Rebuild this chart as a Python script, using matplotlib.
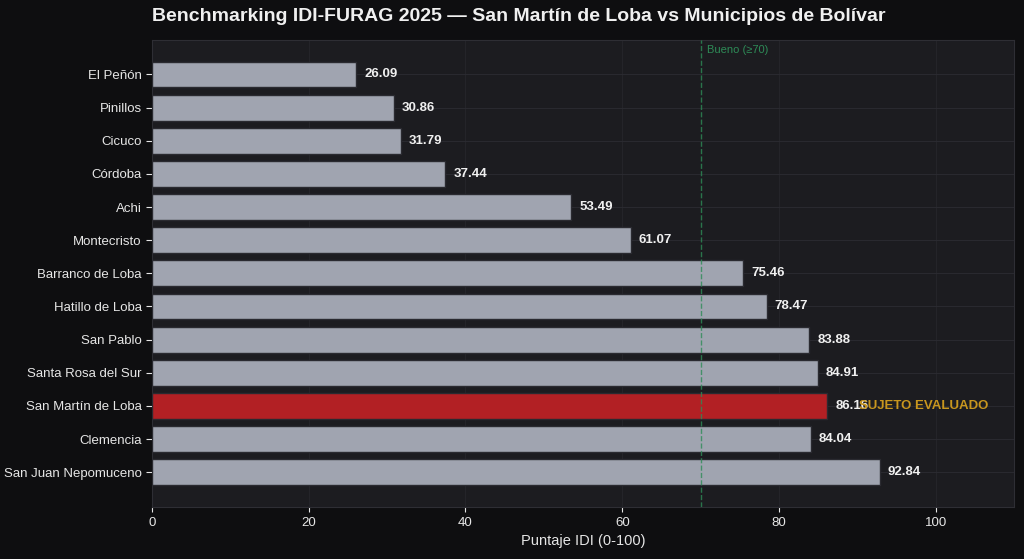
import matplotlib
matplotlib.use("Agg")
import matplotlib.pyplot as plt

plt.rcParams['font.family'] = ['Liberation Sans', 'DejaVu Sans']

municipios = ["El Peñón", "Pinillos", "Cicuco", "Córdoba", "Achi", "Montecristo",
              "Barranco de Loba", "Hatillo de Loba", "San Pablo", "Santa Rosa del Sur",
              "San Martín de Loba", "Clemencia", "San Juan Nepomuceno"]
puntajes = [26.09, 30.86, 31.79, 37.44, 53.49, 61.07, 75.46, 78.47, 83.88, 84.91,
            86.16, 84.04, 92.84]
sujeto = "San Martín de Loba"
umbral = 70

fig = plt.figure(figsize=(10.24, 5.59), dpi=100, facecolor='#0e0e10')
ax = fig.add_axes([0.1484, 0.093, 0.842, 0.836])
ax.set_facecolor('#1c1c20')

colores = ['#b22024' if m == sujeto else '#a0a4b0' for m in municipios]
y = list(range(len(municipios)))
ax.barh(y, puntajes, color=colores, edgecolor='#2a2a30', height=0.78, zorder=3)
ax.set_yticks(y)
ax.set_yticklabels(municipios, color='#e6e6e6', fontsize=9.5)
ax.set_ylim(len(municipios) - 1 + 1.05, -1.05)
ax.set_xlim(0, 110)
ax.set_xticks([0, 20, 40, 60, 80, 100])
ax.tick_params(axis='x', colors='#e6e6e6', labelsize=9.5)
ax.tick_params(axis='y', colors='#e6e6e6', length=4)
ax.set_xlabel("Puntaje IDI (0-100)", color='#e6e6e6', fontsize=10.5)
ax.grid(axis='y', color='#2c2c32', linewidth=0.6, zorder=0)
ax.grid(axis='x', color='#26262b', linewidth=0.6, zorder=0)
for s in ax.spines.values():
    s.set_color('#2e2e34')

for yi, v, m in zip(y, puntajes, municipios):
    ax.text(v + 1, yi, f"{v:.2f}", va='center', ha='left', color='#f0f0f0',
            fontsize=9.5, fontweight='bold', zorder=5)
    if m == sujeto:
        ax.text(v + 4, yi, "SUJETO EVALUADO", va='center', ha='left',
                color='#c8961e', fontsize=9.5, fontweight='bold', zorder=5)

ax.axvline(umbral, color='#2e8b57', linestyle='--', linewidth=1, alpha=0.8, zorder=4)
ax.text(umbral + 0.8, -1.05 + 0.15, "Bueno (≥70)", color='#2e8b57', fontsize=8,
        va='top', ha='left')

fig.suptitle("Benchmarking IDI-FURAG 2025 — San Martín de Loba vs Municipios de Bolívar",
             x=0.148, y=0.985, ha='left', color='#f0f0f0', fontsize=14, fontweight='bold')

fig.savefig("out.png", dpi=100, facecolor=fig.get_facecolor())
